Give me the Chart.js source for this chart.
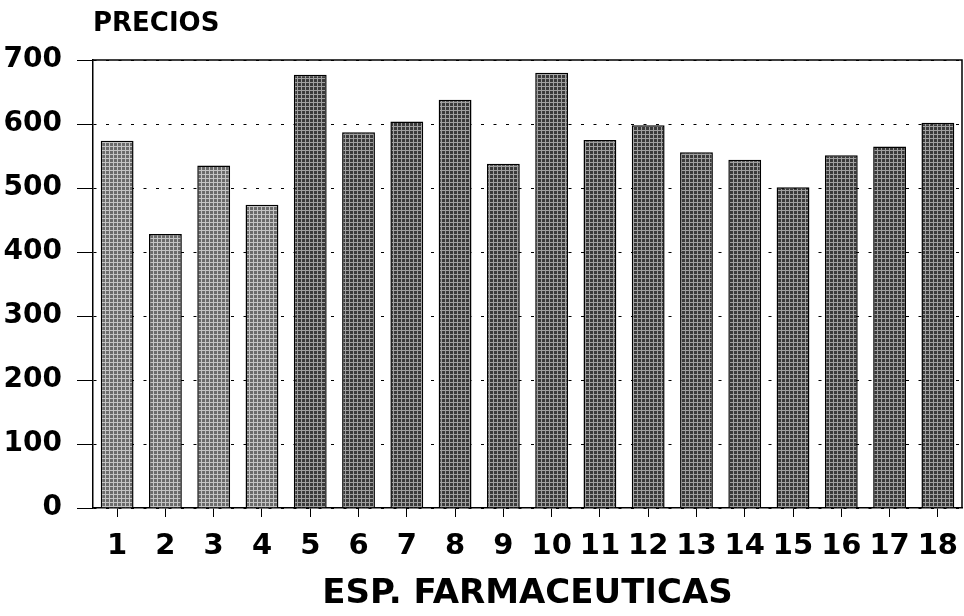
<!DOCTYPE html>
<html>
<head>
<meta charset="utf-8">
<script src="https://cdn.jsdelivr.net/npm/chart.js@4.4.1/dist/chart.umd.min.js"></script>
<style>
  html, body { margin: 0; padding: 0; background: #fff; }
  #wrap { width: 964px; height: 616px; }
</style>
</head>
<body>
<div id="wrap"><canvas id="myChart"></canvas></div>
<script>
const categories = ["1", "2", "3", "4", "5", "6", "7", "8", "9", "10", "11", "12", "13", "14", "15", "16", "17", "18"];
const precios = [574, 428, 535, 474, 677, 587, 604, 638, 538, 680, 575, 598, 556, 544, 501, 551, 565, 602];
const yTicks = [0, 100, 200, 300, 400, 500, 600, 700];
const yTitle = "PRECIOS";
const xTitle = "ESP. FARMACEUTICAS";

// halftone-ish fill like the scanned bars
function makePattern(base, light) {
  const c = document.createElement("canvas");
  c.width = 4;
  c.height = 4;
  const g = c.getContext("2d");
  g.fillStyle = base;
  g.fillRect(0, 0, 4, 4);
  g.fillStyle = light;
  g.fillRect(1, 0, 1, 4);
  g.fillRect(0, 2, 4, 1);
  return g.createPattern(c, "repeat");
}
const darkFill = makePattern("#3a3a3a", "#a0a0a0");
const lightFill = makePattern("#6a6a6a", "#c4c4c4");

Chart.defaults.font.family = "'DejaVu Sans', sans-serif";
Chart.defaults.font.weight = "bold";
Chart.defaults.color = "#000";

const frame = {
  id: "frame",
  afterDraw(chart) {
    const { ctx, chartArea: a } = chart;
    ctx.save();
    ctx.strokeStyle = "#000";
    ctx.lineWidth = 1.5;
    ctx.beginPath();
    ctx.moveTo(a.left, a.top);
    ctx.lineTo(a.right, a.top);
    ctx.lineTo(a.right, a.bottom);
    ctx.stroke();
    ctx.font = "bold 26px 'DejaVu Sans'";
    ctx.fillStyle = "#000";
    ctx.textBaseline = "middle";
    ctx.textAlign = "left";
    ctx.fillText(yTitle, a.left, 24);
    ctx.restore();
  },
};

const data = {
  labels: categories,
  datasets: [
    {
      label: yTitle,
      data: precios,
      backgroundColor: (c) => (c.dataIndex < 4 ? lightFill : darkFill),
      borderColor: "#000",
      borderWidth: 1.5,
      barPercentage: 0.68,
      categoryPercentage: 1.0,
    },
  ],
};

const options = {
  responsive: true,
  maintainAspectRatio: false,
  animation: false,
  layout: { padding: { left: 3, right: 2, top: 60, bottom: 0 } },
  plugins: {
    legend: { display: false },
    tooltip: { enabled: false },
  },
  scales: {
    x: {
      afterFit: (s) => { s.height = 108; },
      grid: {
        display: true,
        drawOnChartArea: false,
        offset: false,
        tickLength: 9,
        color: "#000",
        lineWidth: 1,
      },
      border: { display: true, color: "#000", width: 1.5 },
      ticks: {
        font: { size: 29, weight: "bold", lineHeight: 1.8 },
        padding: 3,
        maxRotation: 0,
        autoSkip: false,
      },
      title: {
        display: true,
        text: xTitle,
        font: { size: 34, weight: "bold" },
        padding: { top: 4, bottom: 1 },
      },
    },
    y: {
      min: yTicks[0],
      max: yTicks[yTicks.length - 1],
      afterFit: (s) => { s.width = 90; },
      grid: {
        color: "#000",
        lineWidth: 1,
        tickLength: 16,
        tickBorderDash: [],
      },
      border: { display: true, color: "#000", width: 1.5, dash: [3, 9.5] },
      ticks: { stepSize: 100, font: { size: 28, weight: "bold" }, padding: 15 },
    },
  },
};

new Chart(document.getElementById("myChart").getContext("2d"), {
  type: "bar",
  data,
  options,
  plugins: [frame],
});
</script>
</body>
</html>
